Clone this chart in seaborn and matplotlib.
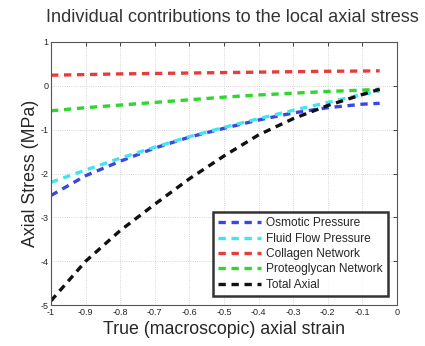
import numpy as np
import pandas as pd
import seaborn as sns
import matplotlib
matplotlib.use("Agg")
import matplotlib.pyplot as plt

# --- data ---
strain = [-1.0, -0.9, -0.8, -0.7, -0.6, -0.5, -0.4, -0.3, -0.2, -0.1, -0.05]
osmotic = [-2.5, -2.05, -1.72, -1.42, -1.17, -0.97, -0.78, -0.62, -0.5, -0.42, -0.4]
fluid = [-2.2, -1.92, -1.65, -1.4, -1.16, -0.95, -0.75, -0.56, -0.38, -0.2, -0.12]
collagen = [0.24, 0.255, 0.27, 0.28, 0.29, 0.30, 0.31, 0.32, 0.33, 0.335, 0.34]
proteoglycan = [-0.57, -0.5, -0.44, -0.38, -0.32, -0.26, -0.21, -0.17, -0.13, -0.1, -0.08]
total = [-4.9, -4.0, -3.3, -2.7, -2.12, -1.6, -1.12, -0.75, -0.45, -0.2, -0.08]

names = ["Osmotic Pressure", "Fluid Flow Pressure", "Collagen Network",
         "Proteoglycan Network", "Total Axial"]
colors = ["#3c46e0", "#3ee6f0", "#e63c3c", "#2ed62e", "#111111"]

xticks = [-1, -0.9, -0.8, -0.7, -0.6, -0.5, -0.4, -0.3, -0.2, -0.1, 0]
xticklabels = ["-1", "-0.9", "-0.8", "-0.7", "-0.6", "-0.5", "-0.4", "-0.3", "-0.2", "-0.1", "0"]
yticks = [-5, -4, -3, -2, -1, 0, 1]

rows = []
for name, vals in zip(names, [osmotic, fluid, collagen, proteoglycan, total]):
    for x, v in zip(strain, vals):
        rows.append({"strain": x, "stress": v, "series": name})
df = pd.DataFrame(rows)

sns.set_style("white")
plt.rcParams['font.family'] = ['Liberation Sans', 'DejaVu Sans']

fig = plt.figure(figsize=(4.25, 3.46), dpi=100)
ax = fig.add_axes([0.12, 0.118, 0.814, 0.761])

sns.lineplot(data=df, x="strain", y="stress", hue="series", hue_order=names,
             palette=colors, ax=ax, linewidth=2.4, legend=True)
for line in ax.get_lines():
    line.set_dashes((2.2, 1.7))

ax.set_xlim(-1, 0)
ax.set_ylim(-5, 1)
ax.set_xticks(xticks)
ax.set_xticklabels(xticklabels, fontsize=6.5)
ax.set_yticks(yticks)
ax.set_yticklabels([str(t) for t in yticks], fontsize=6.5)
ax.tick_params(direction="in", length=3, width=0.6, top=True, right=True, pad=2)
ax.grid(True, linestyle=":", linewidth=0.6, color="#c8c8c8")
for s in ax.spines.values():
    s.set_color("#555555")
    s.set_linewidth(0.8)

ax.set_title("Individual contributions to the local axial stress", fontsize=13.1,
             color="#333333", pad=14, x=0.525)
ax.set_xlabel("True (macroscopic) axial strain", fontsize=12.8, labelpad=3)
ax.set_ylabel("Axial Stress (MPa)", fontsize=12.8, labelpad=1)

leg = ax.legend(loc="lower right", fontsize=8.6, frameon=True, fancybox=False,
                borderaxespad=0.75, handlelength=3.6, labelspacing=0.28,
                handletextpad=0.4, borderpad=0.45)
leg.get_frame().set_edgecolor("black")
leg.get_frame().set_linewidth(1.8)
for h in leg.get_lines():
    h.set_dashes((2.2, 1.7))
    h.set_linewidth(2.4)

fig.savefig("out.png", dpi=100)
